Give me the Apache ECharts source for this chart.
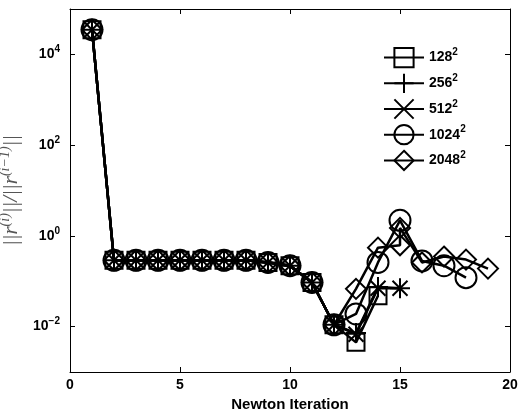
<!DOCTYPE html>
<html>
<head>
<meta charset="utf-8">
<script src="https://cdn.jsdelivr.net/npm/echarts@6/dist/echarts.min.js"></script>
<style>
html, body { margin: 0; padding: 0; background: #fff; }
#main { width: 518px; height: 416px; }
</style>
</head>
<body>
<div id="main"></div>
<script>
// grid sizes (legend) and iterations
var gridSizes = ['128', '256', '512', '1024', '2048'];
var commonIters = [1, 2, 3, 4, 5, 6, 7, 8, 9, 10, 11, 12];
var commonVals = [35000, 0.29, 0.29, 0.29, 0.29, 0.29, 0.29, 0.29, 0.26, 0.22, 0.094, 0.011];

// tails after iteration 12, per grid
var tailIters128 = [13, 14];
var tailVals128 = [0.0045, 0.048];
var tailIters256 = [13, 14, 15];
var tailVals256 = [0.0072, 0.075, 0.07];
var tailIters512 = [13, 14, 15];
var tailVals512 = [0.0068, 0.07, 0.07];
var tailIters1024 = [13, 14, 15, 16, 17, 18];
var tailVals1024 = [0.019, 0.26, 2.2, 0.28, 0.22, 0.12];
var tailIters2048 = [13, 14, 15, 15, 16, 17, 18, 19];
var tailVals2048 = [0.068, 0.55, 0.62, 1.5, 0.26, 0.35, 0.3, 0.19];

var xTicks = [0, 5, 10, 15, 20];
var yTicks = [0.01, 1, 100, 10000];

var symbols = [
    'rect',
    'path://M5,0L5,10M0,5L10,5',
    'path://M0,0L10,10M10,0L0,10',
    'circle',
    'diamond'
];
var symSizes = [17, 20, 15, 21, 20];

var tails = [
    [tailIters128, tailVals128],
    [tailIters256, tailVals256],
    [tailIters512, tailVals512],
    [tailIters1024, tailVals1024],
    [tailIters2048, tailVals2048]
];

function pairs(xs, ys) {
    var out = [];
    for (var i = 0; i < xs.length; i++) out.push([xs[i], ys[i]]);
    return out;
}

var series = gridSizes.map(function (g, k) {
    var data = pairs(commonIters, commonVals).concat(pairs(tails[k][0], tails[k][1]));
    return {
        name: g,
        type: 'line',
        data: data,
        symbol: symbols[k],
        symbolSize: symSizes[k],
        symbolKeepAspect: true,
        lineStyle: { color: '#000', width: 2.5 },
        itemStyle: { color: 'rgba(0,0,0,0)', borderColor: '#000', borderWidth: 2 },
        emphasis: { disabled: true },
        z: 2 + k
    };
});

var fontB = 'Liberation Sans, Arial, sans-serif';
var fontS = 'Liberation Serif, DejaVu Serif, serif';
var supRich = {
    b: { fontFamily: fontB, fontWeight: 'bold', fontSize: 14, color: '#000' },
    s: { fontFamily: fontB, fontWeight: 'bold', fontSize: 10, color: '#000', padding: [0, 0, 10, 0] }
};

function expLabel(v) {
    var e = Math.round(Math.log(v) / Math.LN10);
    var es = e < 0 ? '\u2212' + (-e) : '' + e;
    return '{b|10}{s|' + es + '}';
}

var myChart = echarts.init(document.getElementById('main'));

var option = {
    animation: false,
    backgroundColor: '#fff',
    grid: { left: 70, right: 8, top: 9, bottom: 44, containLabel: false, outerBoundsMode: 'none' },
    legend: {
        orient: 'vertical',
        left: 383,
        top: 47,
        padding: 0,
        itemWidth: 40,
        itemHeight: 24,
        itemGap: 4.5,
        data: gridSizes,
        formatter: function (n) { return '{b|' + n + '}{s|2}'; },
        textStyle: { rich: supRich },
        selectedMode: false
    },
    xAxis: [{
        type: 'value',
        min: 0,
        max: 20,
        interval: 5,
        name: 'Newton Iteration',
        nameLocation: 'middle',
        nameGap: 25,
        nameTextStyle: { fontFamily: fontB, fontWeight: 'bold', fontSize: 15, color: '#000' },
        axisLine: { show: true, onZero: false, lineStyle: { color: '#000', width: 1 } },
        axisTick: { show: true, inside: true, length: 5, lineStyle: { color: '#000' } },
        axisLabel: { fontFamily: fontB, fontWeight: 'bold', fontSize: 14, color: '#000', margin: 6,
            customValues: xTicks },
        splitLine: { show: false }
    }, {
        type: 'value',
        position: 'top',
        min: 0,
        max: 20,
        interval: 5,
        axisLine: { show: true, onZero: false, lineStyle: { color: '#000', width: 1 } },
        axisTick: { show: true, inside: true, length: 5, lineStyle: { color: '#000' } },
        axisLabel: { show: false },
        splitLine: { show: false }
    }],
    yAxis: [{
        type: 'log',
        logBase: 10,
        min: 0.001,
        max: 100000,
        name: '{n|||r}{s|(i)}{n|||/||r}{s|(i\u22121)}{n|||}',
        nameLocation: 'middle',
        nameGap: 40,
        nameRotate: 90,
        nameTextStyle: {
            rich: {
                n: { fontFamily: fontS, fontStyle: 'italic', fontSize: 21, color: '#555' },
                s: { fontFamily: fontS, fontStyle: 'italic', fontSize: 14, color: '#555', padding: [0, 0, 12, 0] }
            }
        },
        axisLine: { show: true, onZero: false, lineStyle: { color: '#000', width: 1 } },
        axisTick: { show: true, inside: true, length: 5, lineStyle: { color: '#000' }, customValues: yTicks },
        axisLabel: { formatter: expLabel, rich: supRich, margin: 10, customValues: yTicks },
        splitLine: { show: false },
        minorTick: { show: false }
    }, {
        type: 'log',
        logBase: 10,
        min: 0.001,
        max: 100000,
        position: 'right',
        axisLine: { show: true, onZero: false, lineStyle: { color: '#000', width: 1 } },
        axisTick: { show: true, inside: true, length: 5, lineStyle: { color: '#000' }, customValues: yTicks },
        axisLabel: { show: false },
        splitLine: { show: false }
    }],
    series: series
};

myChart.setOption(option);
</script>
</body>
</html>
